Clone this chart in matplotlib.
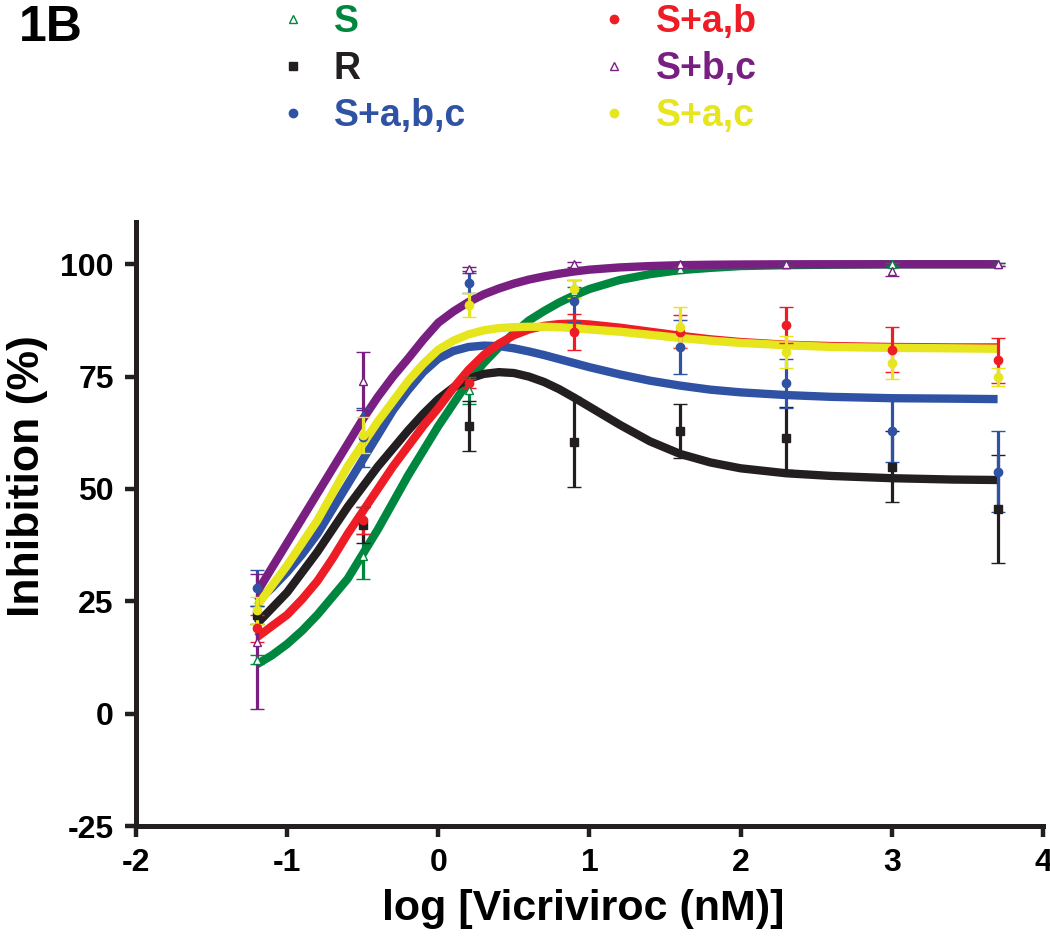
import matplotlib
matplotlib.use("Agg")
import matplotlib.pyplot as plt
from matplotlib.lines import Line2D

plt.rcParams['font.family'] = ['Liberation Sans', 'DejaVu Sans']
plt.rcParams['font.weight'] = 'bold'
plt.rcParams['axes.unicode_minus'] = False

# measured points (log nM) -> mean inhibition % and error
dose = [-1.2, -0.5, 0.2, 0.9, 1.6, 2.3, 3.0, 3.7]

s_mean = [12, 35, 72, 94, 99, 100, 100, 100]
s_err = [1, 5, 3, 1, 0.5, 0.3, 0.3, 0.3]
r_mean = [22, 42, 64, 60.5, 63, 61.3, 55, 45.5]
r_err = [2, 4, 5.5, 10, 6, 7, 8, 12]
sabc_mean = [28, 61.5, 95.8, 91.8, 81.5, 73.5, 63, 53.8]
sabc_err = [4, 6.5, 2.3, 4.7, 6, 5.5, 7, 9]
sab_mean = [19, 43, 73.5, 85, 85, 86.4, 81, 78.6]
sab_err = [3, 3, 1, 4, 3.7, 4, 5, 5]
sbc_mean = [16, 74, 99, 100, 100, 100, 98.5, 100]
sbc_err = [15, 6.5, 0.5, 0.5, 0.3, 0.3, 1, 0.3]
sac_mean = [23, 62, 91, 94.5, 86, 80.5, 78, 75]
sac_err = [3, 4, 2.7, 2, 4.5, 3.5, 3.5, 2]

# fitted curves
fit_x = [-1.2, -1.1, -1.0, -0.9, -0.8, -0.7, -0.6, -0.5, -0.4, -0.3, -0.2, -0.1, 0.0,
         0.1, 0.2, 0.3, 0.4, 0.5, 0.6, 0.7, 0.8, 0.9, 1.0, 1.2, 1.4, 1.6, 1.8, 2.0,
         2.3, 2.6, 3.0, 3.4, 3.7]
s_fit = [11, 13, 15.5, 18.5, 22, 26, 30, 35.5, 41, 47, 53, 58.5, 64,
         69, 74, 78, 81.5, 84.7, 87.5, 89.6, 91.5, 93.1, 94.5, 96.5, 97.8, 98.7, 99.2, 99.6,
         99.8, 99.9, 100, 100, 100]
r_fit = [20, 23.5, 27, 31.5, 36, 41, 46, 50.5, 55, 59, 63, 66.7, 70,
         72.6, 74.5, 75.6, 76, 75.8, 75, 73.8, 72.2, 70.3, 68.3, 64.3, 60.6, 57.8, 55.9, 54.6,
         53.5, 52.9, 52.4, 52.1, 52]
sabc_fit = [25, 28, 31.5, 35.5, 40, 45.5, 51, 56.5, 62, 67.5, 72, 76, 79,
            80.7, 81.6, 81.9, 81.8, 81.3, 80.6, 79.8, 78.9, 78, 77.1, 75.5, 74.1, 73, 72.1, 71.5,
            70.9, 70.5, 70.2, 70.1, 70]
sab_fit = [17, 19.5, 22, 25.5, 29.5, 34.5, 40, 45, 50, 55, 59.5, 64, 68,
           72.5, 76.5, 79.8, 82.3, 84.2, 85.5, 86.3, 86.7, 86.8, 86.6, 85.9, 85, 84.1, 83.3, 82.7,
           82.1, 81.8, 81.6, 81.5, 81.5]
sbc_fit = [27, 32.5, 38, 43.5, 49, 54.5, 60, 65.5, 70.5, 75, 79, 83.2, 87,
           89.5, 91.6, 93.3, 94.6, 95.7, 96.6, 97.3, 97.9, 98.4, 98.8, 99.3, 99.6, 99.8, 99.9, 99.95,
           100, 100, 100, 100, 100]
sac_fit = [24, 28.5, 33, 38, 43, 49, 55, 60, 65, 69.5, 74, 77.8, 81,
           83, 84.4, 85.3, 85.8, 86, 86.1, 86.1, 86, 85.8, 85.5, 85, 84.3, 83.6, 83, 82.5,
           82, 81.6, 81.4, 81.3, 81.2]

green = '#00873F'
black = '#231F20'
blue = '#2F52A4'
red = '#EE1C25'
purple = '#7A1F82'
yellow = '#E6E51E'

series = [
    ('S', s_mean, s_err, s_fit, green, '^', 'none'),
    ('R', r_mean, r_err, r_fit, black, 's', black),
    ('S+a,b,c', sabc_mean, sabc_err, sabc_fit, blue, 'o', blue),
    ('S+a,b', sab_mean, sab_err, sab_fit, red, 'o', red),
    ('S+b,c', sbc_mean, sbc_err, sbc_fit, purple, '^', 'none'),
    ('S+a,c', sac_mean, sac_err, sac_fit, yellow, 'o', yellow),
]

fig = plt.figure(figsize=(10.5, 9.42), dpi=100)
ax = fig.add_axes([0.1295, 0.1231, 0.8638, 0.6412])

handles = []
for i, (name, m, e, f, c, mk, fc) in enumerate(series):
    face = fc if fc != 'none' else 'white'
    ax.plot(fit_x, f, color=c, lw=6, zorder=2 + i * 0.1, solid_capstyle='butt')
    ax.errorbar(dose, m, yerr=e, fmt=mk, color=c, ms=6, mfc=face,
                mec=c, mew=1, elinewidth=2.3, capsize=5, capthick=3, zorder=4)
    handles.append(Line2D([], [], ls='none', marker=mk, color=c, ms=6,
                          mfc=face, mec=c, mew=1))

ax.set_xlim(-2, 4)
ax.set_ylim(-25, 109.4)
ax.set_xticks(range(-2, 5))
ax.set_yticks([-25, 0, 25, 50, 75, 100])
for s in ['top', 'right']:
    ax.spines[s].set_visible(False)
for s in ['left', 'bottom']:
    ax.spines[s].set_linewidth(3.6)
    ax.spines[s].set_color(black)
ax.tick_params(width=3.2, length=8, labelsize=23, color=black, pad=8)
ax.set_xlabel('log [Vicriviroc (nM)]', fontsize=31, fontweight='bold')
ax.set_ylabel('Inhibition (%)', fontsize=32, fontweight='bold')
ax.xaxis.set_label_coords(0.493, -0.105)
ax.yaxis.set_label_coords(-0.097, 0.58)

leg = fig.legend(handles, [s[0] for s in series], ncol=2, frameon=False,
                 loc='upper left', bbox_to_anchor=(0.268, 0.996),
                 prop={'weight': 'bold', 'size': 27}, handlelength=0.6,
                 handletextpad=0.8, columnspacing=3.65, labelspacing=0.3,
                 borderpad=0, borderaxespad=0)
for t, s in zip(leg.get_texts(), series):
    t.set_color(s[4])

fig.text(0.018, 0.995, '1B', fontsize=36, fontweight='bold', va='top', ha='left')

fig.savefig('out.png', dpi=100)
